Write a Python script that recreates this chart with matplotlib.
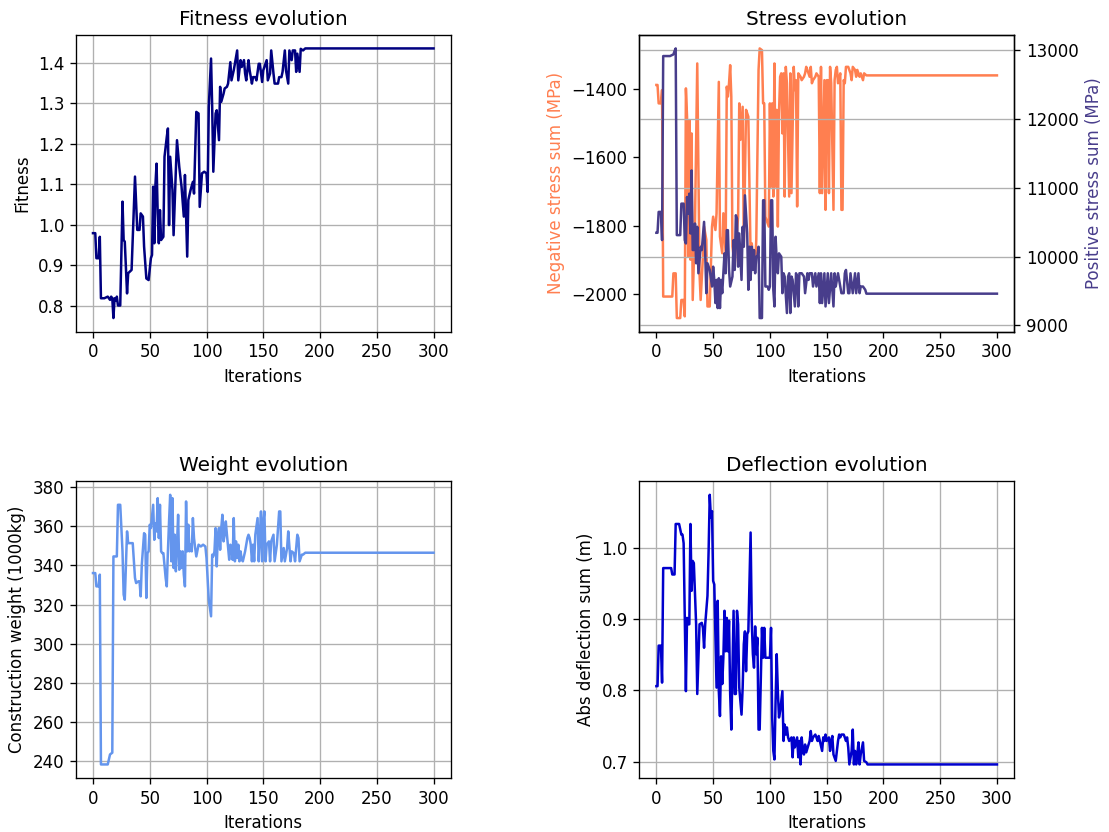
import matplotlib
matplotlib.use('Agg')
import matplotlib.pyplot as plt

# fitness (iteration, value)
fit_it = [0, 2, 3, 5, 6, 7, 10, 13, 15, 16, 17, 18, 19, 20, 21, 22, 24, 26, 27, 28, 30, 31, 34, 37, 39, 41,
          42, 44, 45, 47, 49, 51, 52, 53, 54, 55, 56, 57, 58, 59, 60, 62, 63, 65, 66, 67, 68, 70, 71, 73, 74,
          76, 78, 80, 81, 83, 84, 86, 88, 89, 91, 93, 94, 96, 98, 100, 101, 102, 104, 105, 106, 108, 109, 111,
          112, 113, 115, 116, 118, 119, 121, 122, 124, 125, 127, 128, 130, 131, 133, 134, 135, 137, 138, 140,
          141, 143, 144, 146, 147, 149, 150, 151, 153, 154, 156, 157, 159, 160, 163, 164, 166, 167, 169, 170,
          172, 173, 175, 176, 178, 179, 180, 182, 183, 185, 187, 300]
fit_val = [0.979, 0.979, 0.917, 0.917, 0.970, 0.818, 0.818, 0.822, 0.814, 0.822, 0.818, 0.769, 0.818, 0.812,
           0.822, 0.800, 0.800, 1.057, 0.962, 0.958, 0.830, 0.880, 0.888, 1.119, 0.987, 0.987, 1.028, 1.020,
           0.946, 0.867, 0.863, 0.917, 0.925, 1.094, 0.954, 1.098, 1.151, 1.028, 0.954, 1.036, 0.962, 0.970,
           1.168, 1.217, 1.238, 0.999, 1.168, 1.086, 0.974, 1.135, 1.209, 1.143, 1.094, 1.020, 1.123, 0.921,
           1.061, 1.086, 1.106, 1.077, 1.279, 1.275, 1.044, 1.127, 1.131, 1.127, 1.081, 1.291, 1.411, 1.291,
           1.131, 1.275, 1.283, 1.209, 1.341, 1.304, 1.324, 1.337, 1.341, 1.349, 1.402, 1.357, 1.382, 1.398,
           1.431, 1.357, 1.407, 1.390, 1.407, 1.374, 1.357, 1.407, 1.382, 1.349, 1.365, 1.365, 1.357, 1.398,
           1.398, 1.353, 1.382, 1.390, 1.407, 1.357, 1.374, 1.431, 1.374, 1.349, 1.349, 1.365, 1.365, 1.378,
           1.431, 1.382, 1.349, 1.431, 1.407, 1.431, 1.431, 1.378, 1.423, 1.378, 1.435, 1.431, 1.436, 1.436]

# negative stress sum (MPa)
neg_it = [0, 1, 2, 4, 5, 6, 14, 15, 17, 18, 21, 22, 24, 25, 26, 27, 28, 29, 30, 31, 32, 34, 36, 38, 39, 41,
          42, 44, 45, 47, 49, 50, 52, 53, 55, 56, 58, 59, 61, 62, 63, 64, 65, 66, 67, 69, 70, 72, 73, 74, 76,
          77, 79, 81, 83, 84, 86, 87, 88, 90, 91, 93, 94, 95, 96, 99, 100, 101, 102, 103, 104, 105, 106, 107,
          108, 109, 110, 111, 112, 113, 114, 115, 117, 118, 119, 121, 122, 123, 124, 125, 127, 128, 130, 131,
          132, 133, 135, 136, 137, 138, 140, 141, 143, 144, 145, 146, 148, 149, 150, 151, 152, 153, 154, 156,
          157, 158, 159, 160, 162, 163, 164, 165, 166, 167, 169, 171, 172, 173, 175, 176, 177, 179, 180, 182,
          183, 185, 300]
neg_val = [-1388, -1388, -1442, -1442, -1403, -2008, -2008, -1940, -1940, -2071, -2071, -2018, -2018, -2066,
           -1398, -1481, -1891, -1491, -1900, -1530, -2018, -1793, -1325, -1940, -2018, -1891, -1803, -1842,
           -2037, -2037, -1803, -1774, -1813, -1764, -1379, -1832, -1881, -1764, -1881, -1393, -1422, -1383,
           -1330, -1422, -1861, -1920, -1861, -1774, -1442, -1549, -1452, -1861, -1461, -1481, -1891, -1852,
           -1920, -1920, -1842, -1344, -1281, -1286, -1442, -1442, -1774, -1803, -1442, -1686, -1442, -1715,
           -1325, -1686, -1461, -1803, -1471, -1364, -1354, -1530, -1354, -1715, -1335, -1383, -1715, -1354,
           -1705, -1335, -1403, -1374, -1744, -1354, -1364, -1374, -1364, -1354, -1335, -1344, -1364, -1335,
           -1383, -1374, -1364, -1354, -1364, -1705, -1335, -1705, -1374, -1754, -1374, -1374, -1705, -1335,
           -1383, -1754, -1374, -1344, -1335, -1383, -1354, -1754, -1754, -1374, -1383, -1335, -1335, -1354,
           -1374, -1335, -1344, -1364, -1344, -1364, -1354, -1374, -1354, -1360, -1360]

# positive stress sum (MPa)
pos_it = [0, 1, 2, 4, 5, 6, 12, 15, 16, 17, 18, 21, 22, 24, 25, 26, 27, 28, 29, 30, 31, 32, 33, 34, 35, 36,
          37, 39, 40, 42, 43, 44, 45, 46, 47, 49, 50, 51, 52, 53, 54, 55, 56, 57, 58, 60, 61, 62, 63, 64, 65,
          67, 68, 69, 70, 71, 72, 73, 75, 76, 77, 78, 80, 81, 82, 83, 84, 85, 86, 87, 88, 89, 90, 91, 93, 94,
          95, 96, 98, 99, 100, 101, 102, 103, 104, 105, 106, 107, 108, 110, 111, 112, 113, 115, 116, 117, 118,
          119, 120, 122, 123, 124, 125, 126, 128, 130, 131, 133, 134, 135, 137, 138, 140, 141, 143, 144, 145,
          146, 148, 149, 151, 152, 154, 156, 157, 158, 160, 162, 163, 165, 166, 167, 169, 170, 171, 173, 175,
          176, 178, 179, 180, 182, 184, 185, 300]
pos_val = [10346, 10346, 10650, 10650, 10240, 12918, 12918, 12942, 12990, 13029, 10312, 10312, 10770, 10770,
           10240, 10191, 10867, 10626, 10915, 10336, 11253, 10095, 10095, 10481, 9902, 10433, 9757, 10143,
           10095, 10505, 10047, 9467, 9902, 9853, 9805, 9564, 9853, 9660, 9323, 9660, 9250, 9685, 9250, 9660,
           9467, 10047, 9757, 10384, 10384, 9805, 9564, 9709, 10240, 9805, 10601, 10553, 9853, 10336, 9660,
           10433, 10143, 10891, 10336, 9516, 10143, 9660, 10143, 9805, 10095, 9757, 9998, 9998, 10143, 9105,
           9105, 10819, 10819, 9564, 9564, 9516, 9564, 10819, 10819, 9516, 9274, 10288, 9950, 9757, 10047,
           9998, 9467, 9757, 9709, 9178, 9709, 9757, 9178, 9709, 9660, 9274, 9757, 9709, 9274, 9757, 9757,
           9709, 9467, 9757, 9660, 9757, 9757, 9564, 9757, 9564, 9757, 9323, 9757, 9323, 9757, 9274, 9757,
           9323, 9757, 9274, 9757, 9564, 9757, 9564, 9467, 9467, 9757, 9805, 9467, 9467, 9757, 9467, 9757,
           9467, 9757, 9467, 9564, 9564, 9516, 9460, 9460]

# construction weight (1000kg)
w_it = [0, 2, 3, 5, 6, 7, 13, 15, 17, 18, 21, 22, 24, 26, 27, 28, 30, 31, 35, 37, 38, 40, 41, 42, 43, 45, 46,
        47, 48, 49, 50, 51, 53, 54, 55, 56, 57, 58, 59, 60, 61, 62, 64, 65, 66, 67, 68, 69, 70, 71, 72, 73, 74,
        75, 76, 77, 78, 79, 80, 81, 82, 83, 84, 85, 86, 87, 88, 89, 90, 91, 93, 95, 97, 99, 100, 101, 102, 104,
        105, 106, 107, 108, 109, 110, 111, 112, 113, 114, 115, 116, 117, 118, 120, 121, 122, 123, 124, 125,
        126, 127, 128, 129, 130, 131, 132, 134, 136, 137, 138, 139, 140, 141, 142, 143, 145, 146, 147, 148,
        149, 150, 151, 152, 153, 155, 156, 157, 159, 160, 162, 164, 165, 166, 168, 169, 171, 172, 174, 175,
        177, 178, 180, 181, 182, 184, 185, 187, 300]
w_val = [336.1, 336.1, 329.3, 329.3, 335.3, 238.3, 238.3, 243.4, 244.3, 344.6, 344.6, 371.0, 371.0, 347.2,
         325.1, 322.5, 357.4, 351.4, 351.4, 333.6, 331.0, 331.9, 331.9, 324.2, 340.4, 356.5, 355.7, 323.4,
         346.3, 347.2, 360.8, 359.1, 371.0, 353.1, 361.6, 357.4, 374.4, 354.0, 371.0, 347.2, 346.3, 346.3,
         333.6, 329.3, 347.2, 362.5, 376.1, 342.1, 374.4, 338.7, 355.7, 337.0, 350.6, 365.9, 337.8, 347.2,
         338.7, 347.2, 335.3, 329.3, 372.7, 347.2, 360.8, 347.2, 350.6, 347.2, 364.2, 354.0, 348.9, 344.6,
         350.6, 349.7, 350.6, 349.7, 343.8, 333.6, 322.5, 314.0, 345.5, 344.6, 347.2, 359.1, 339.5, 355.7,
         359.1, 348.0, 359.1, 365.9, 352.3, 355.7, 362.5, 355.7, 342.9, 350.6, 348.9, 342.9, 364.2, 342.1,
         352.3, 343.8, 350.6, 342.1, 347.2, 342.9, 342.1, 347.2, 354.0, 355.7, 354.0, 350.6, 342.1, 350.6,
         342.1, 355.7, 364.2, 342.1, 355.7, 367.6, 342.1, 362.5, 367.6, 342.1, 350.6, 352.3, 342.1, 352.3,
         355.7, 342.1, 350.6, 367.6, 367.6, 342.1, 348.9, 342.1, 348.9, 357.4, 342.1, 347.2, 346.3, 342.1,
         355.7, 354.0, 342.1, 345.5, 345.5, 346.5, 346.5]

# abs deflection sum (m)
d_it = [0, 1, 2, 4, 5, 6, 13, 14, 16, 17, 20, 22, 23, 24, 26, 27, 28, 29, 30, 31, 32, 33, 35, 36, 38, 40, 41,
        42, 43, 45, 46, 47, 48, 49, 50, 51, 53, 54, 55, 56, 57, 58, 59, 60, 61, 62, 63, 64, 65, 66, 67, 68, 69,
        70, 71, 72, 73, 75, 76, 77, 78, 79, 80, 81, 83, 84, 85, 86, 87, 88, 89, 90, 91, 93, 94, 95, 96, 98,
        100, 101, 102, 103, 104, 105, 106, 107, 108, 109, 111, 112, 113, 114, 115, 116, 117, 119, 120, 121,
        122, 124, 125, 126, 127, 128, 129, 130, 131, 132, 134, 135, 136, 137, 138, 140, 141, 142, 143, 144,
        146, 147, 148, 149, 150, 152, 153, 154, 155, 156, 158, 159, 160, 161, 162, 163, 165, 166, 167, 168,
        169, 170, 172, 173, 174, 175, 176, 177, 178, 179, 180, 182, 183, 185, 186, 300]
d_val = [0.806, 0.806, 0.863, 0.863, 0.811, 0.972, 0.972, 0.963, 0.963, 1.034, 1.034, 1.019, 1.019, 1.007,
         0.799, 0.902, 0.893, 0.893, 1.034, 0.940, 0.982, 0.979, 0.893, 0.795, 0.893, 0.895, 0.888, 0.860,
         0.893, 0.933, 0.996, 1.075, 1.043, 1.052, 0.954, 0.949, 0.804, 0.926, 0.799, 0.764, 0.848, 0.809,
         0.846, 0.912, 0.855, 0.902, 0.855, 0.898, 0.795, 0.745, 0.827, 0.912, 0.795, 0.795, 0.912, 0.893,
         0.804, 0.766, 0.804, 0.865, 0.883, 0.827, 0.879, 0.883, 1.022, 0.898, 0.851, 0.832, 0.890, 0.851,
         0.874, 0.745, 0.745, 0.888, 0.846, 0.888, 0.846, 0.846, 0.846, 0.888, 0.762, 0.715, 0.703, 0.785,
         0.851, 0.799, 0.762, 0.771, 0.799, 0.729, 0.752, 0.738, 0.748, 0.734, 0.729, 0.734, 0.706, 0.734,
         0.720, 0.734, 0.706, 0.729, 0.696, 0.734, 0.715, 0.710, 0.724, 0.713, 0.724, 0.729, 0.743, 0.729,
         0.734, 0.738, 0.734, 0.729, 0.736, 0.729, 0.715, 0.734, 0.729, 0.738, 0.729, 0.734, 0.715, 0.729,
         0.736, 0.710, 0.701, 0.715, 0.729, 0.738, 0.734, 0.738, 0.738, 0.734, 0.729, 0.734, 0.720, 0.696,
         0.715, 0.745, 0.696, 0.715, 0.696, 0.710, 0.727, 0.696, 0.710, 0.727, 0.701, 0.699, 0.696, 0.696]

fig, axes = plt.subplots(2, 2, figsize=(1109 / 120, 832 / 120), dpi=120)
fig.subplots_adjust(left=0.0685, right=0.9143, bottom=0.065, top=0.958, wspace=0.504, hspace=0.505)

ax = axes[0, 0]
ax.plot(fit_it, fit_val, color='navy')
ax.set_title('Fitness evolution'); ax.set_xlabel('Iterations'); ax.set_ylabel('Fitness')
ax.grid(True)

ax = axes[0, 1]
ax.plot(neg_it, neg_val, color='coral')
ax.set_ylabel('Negative stress sum (MPa)', color='coral')
ax.set_xlabel('Iterations'); ax.set_title('Stress evolution')
ax2 = ax.twinx()
ax2.plot(pos_it, pos_val, color='darkslateblue')
ax2.set_ylabel('Positive stress sum (MPa)', color='darkslateblue')
ax2.grid(True)

ax = axes[1, 0]
ax.plot(w_it, w_val, color='cornflowerblue')
ax.set_title('Weight evolution'); ax.set_xlabel('Iterations'); ax.set_ylabel('Construction weight (1000kg)')
ax.grid(True)

ax = axes[1, 1]
ax.plot(d_it, d_val, color='mediumblue')
ax.set_title('Deflection evolution'); ax.set_xlabel('Iterations'); ax.set_ylabel('Abs deflection sum (m)')
ax.grid(True)

fig.savefig('out.png', dpi=120)
